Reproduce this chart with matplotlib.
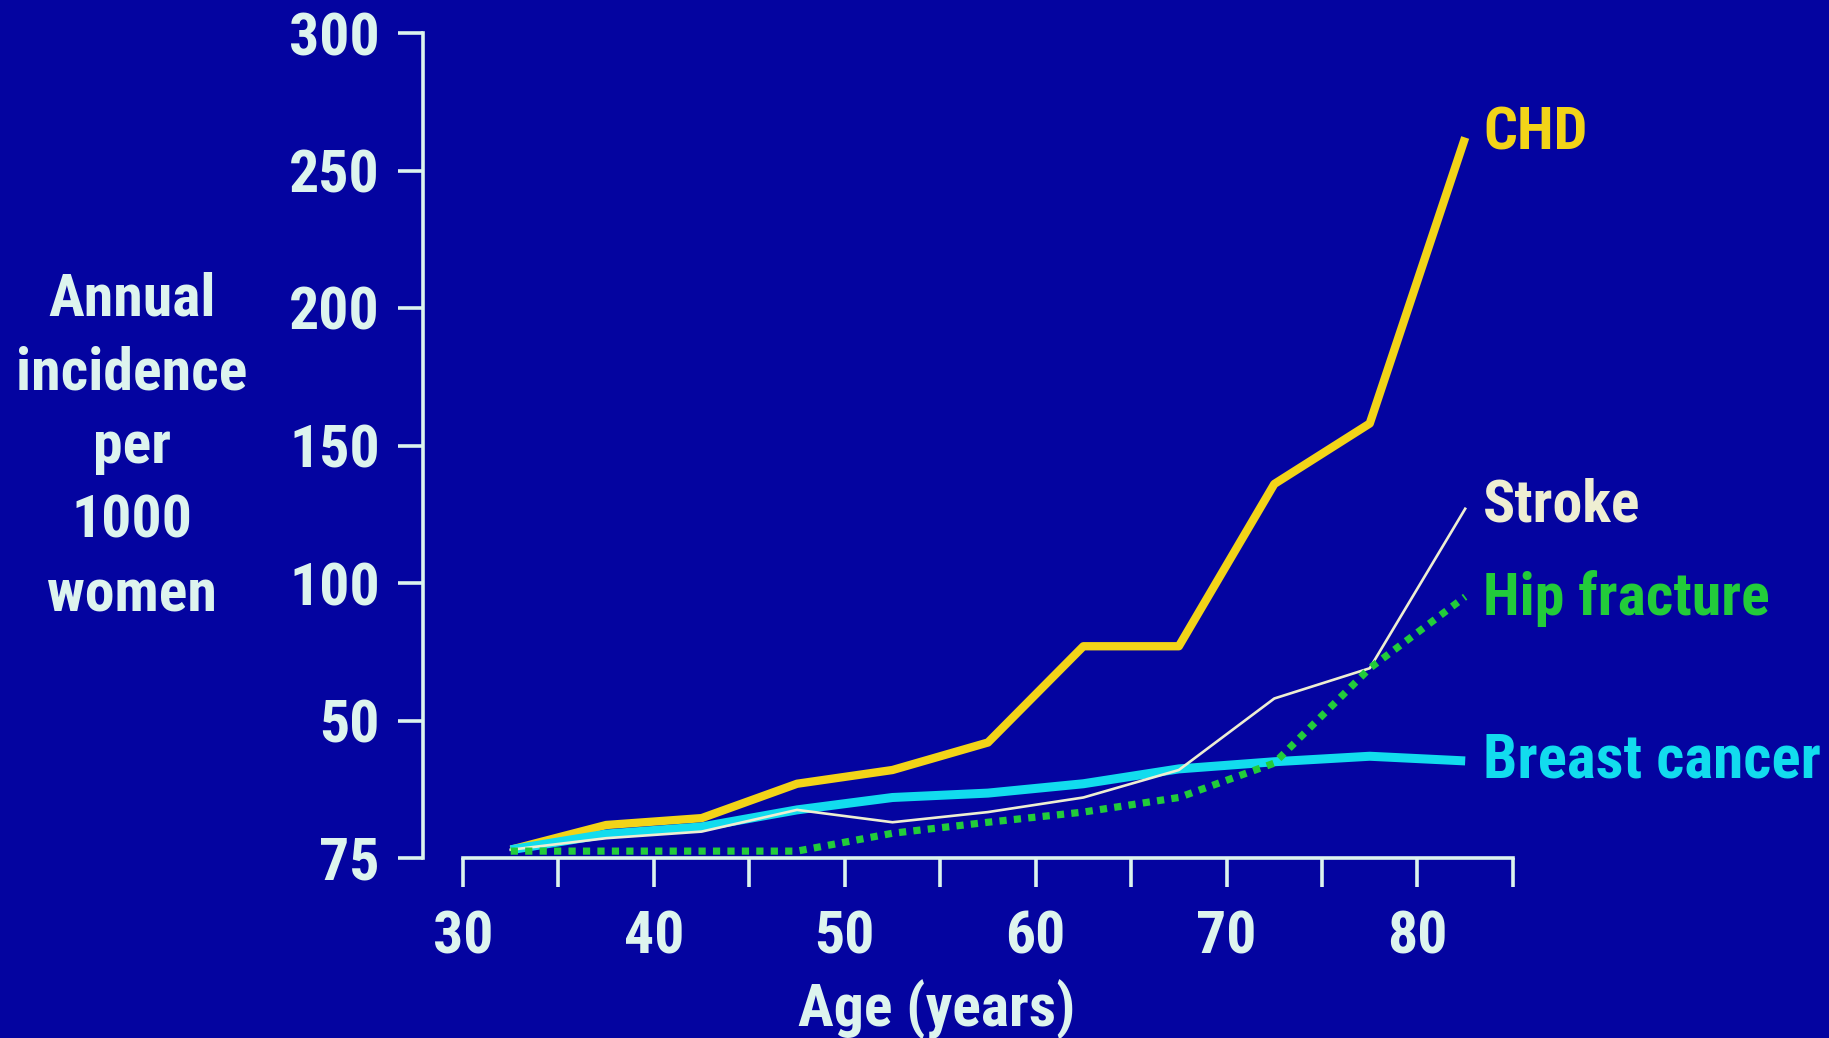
import matplotlib.pyplot as plt
from matplotlib import font_manager

# age band midpoints (years)
ages = [32.5, 37.5, 42.5, 47.5, 52.5, 57.5, 62.5, 67.5, 72.5, 77.5, 82.5]

# annual incidence per 1000 women
chd = [3, 12, 14.5, 27, 32, 42, 77, 77, 136, 158, 262]
breast_cancer = [3, 8.7, 11.3, 17.5, 22, 23.6, 27, 32.4, 35, 37, 35.3]
stroke = [3, 7.2, 9.6, 17.5, 13, 16.7, 22, 32, 58, 69, 127]
hip_fracture = [2.5, 2.5, 2.5, 2.5, 9, 13, 16.7, 22, 34.5, 69, 95]

xticks = [30, 35, 40, 45, 50, 55, 60, 65, 70, 75, 80, 85]
xticklabels = ["30", "", "40", "", "50", "", "60", "", "70", "", "80", ""]
yticks = [0, 50, 100, 150, 200, 250, 300]
yticklabels = ["75", "50", "100", "150", "200", "250", "300"]
ylabel_lines = ["Annual", "incidence", "per", "1000", "women"]

bg = "#0404A0"
fg = "#DDF4EE"
c_chd = "#F2D418"
c_breast = "#12DCEE"
c_stroke = "#EEEED2"
c_hip = "#22CC3A"

# the slide uses a condensed bold sans; take one if it is installed
installed = {f.name for f in font_manager.fontManager.ttflist}
if "Roboto Condensed" in installed:
    family, fs = "Roboto Condensed", 43
else:
    family, fs = "Liberation Sans", 37

plt.rcParams["font.family"] = [family, "DejaVu Sans"]
plt.rcParams["font.weight"] = "bold"

W, H = 1829, 1038
fig = plt.figure(figsize=(W / 100, H / 100), dpi=100, facecolor=bg)
ax = fig.add_axes([423 / W, (H - 858) / H, (1532 - 423) / W, (858 - 33) / H])
ax.set_facecolor(bg)

ax.plot(ages, chd, color=c_chd, lw=6, clip_on=False, solid_capstyle="butt")
ax.plot(ages, breast_cancer, color=c_breast, lw=6.5, clip_on=False, solid_capstyle="butt")
ax.plot(ages, stroke, color=c_stroke, lw=1.9, clip_on=False)
ax.plot(ages, hip_fracture, color=c_hip, lw=5.2, dashes=(1, 1.0),
        dash_capstyle="butt", clip_on=False)

ax.set_xlim(27.905, 86)
ax.set_ylim(0, 300)

for s in ["top", "right"]:
    ax.spines[s].set_visible(False)
ax.spines["left"].set_bounds(0, 300)
ax.spines["bottom"].set_bounds(30, 85)
for s in ["left", "bottom"]:
    ax.spines[s].set_color(fg)
    ax.spines[s].set_linewidth(2.6)

ax.set_xticks(xticks)
ax.set_xticklabels(xticklabels)
ax.set_yticks(yticks)
ax.set_yticklabels(yticklabels)
ax.tick_params(axis="x", direction="out", length=21, width=2.6, color=fg,
               labelcolor=fg, labelsize=fs, pad=16)
ax.tick_params(axis="y", direction="out", length=18, width=2.6, color=fg,
               labelcolor=fg, labelsize=fs, pad=13)

# y axis title, one line at a time
for i, line in enumerate(ylabel_lines):
    fig.text(132 / W, 1 - (315 + 74 * i) / H, line, color=fg, fontsize=fs,
             ha="center", va="baseline")

fig.text(937 / W, 1 - 1027 / H, "Age (years)", color=fg, fontsize=fs,
         ha="center", va="baseline")

# series labels at line ends
fig.text(1483 / W, 1 - 150 / H, "CHD", color=c_chd, fontsize=fs, va="baseline")
fig.text(1483 / W, 1 - 522 / H, "Stroke", color=c_stroke, fontsize=fs, va="baseline")
fig.text(1483 / W, 1 - 615 / H, "Hip fracture", color=c_hip, fontsize=fs, va="baseline")
fig.text(1483 / W, 1 - 778 / H, "Breast cancer", color=c_breast, fontsize=fs + 1,
         va="baseline")

fig.savefig("out.png", dpi=100, facecolor=bg)
